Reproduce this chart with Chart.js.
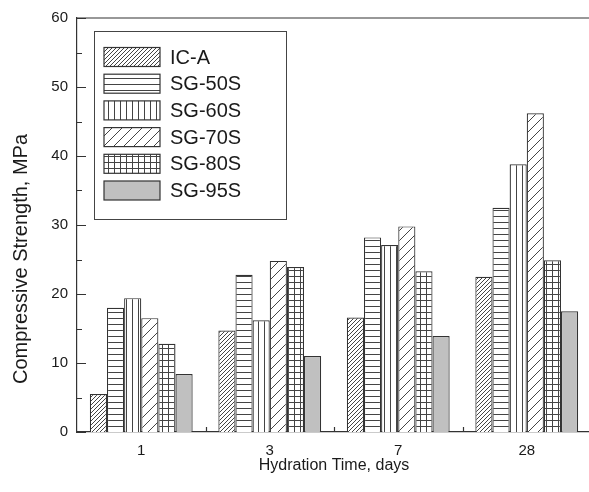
<!DOCTYPE html>
<html>
<head>
<meta charset="UTF-8">
<script src="https://cdn.jsdelivr.net/npm/chart.js"></script>
<style>
    html, body { margin: 0; padding: 0; background: #ffffff; overflow: hidden; }
    #wrap { width: 592px; height: 492px; position: relative; }
</style>
</head>
<body>
<div id="wrap"><canvas id="chart"></canvas></div>
<script>
const categories = ['1', '3', '7', '28'];
const seriesNames = ['IC-A', 'SG-50S', 'SG-60S', 'SG-70S', 'SG-80S', 'SG-95S'];
const icA = [5.5, 14.7, 16.6, 22.5];
const sg50 = [18.0, 22.8, 28.2, 32.5];
const sg60 = [19.4, 16.2, 27.1, 38.8];
const sg70 = [16.5, 24.8, 29.8, 46.2];
const sg80 = [12.8, 23.9, 23.3, 24.9];
const sg95 = [8.4, 11.0, 13.9, 17.5];
const yTicks = [0, 10, 20, 30, 40, 50, 60];

const fontFamily = "'Liberation Sans', Arial, sans-serif";
const inkColor = '#333333';
const hatchColor = '#444444';

// small tiles turned into canvas patterns for the hatched fills
function makePattern(kind) {
    const size = { dense: 4, horiz: 6, vert: 6, sparse: 10, grid: 6 }[kind];
    const c = document.createElement('canvas');
    c.width = size;
    c.height = size;
    const g = c.getContext('2d');
    g.fillStyle = '#ffffff';
    g.fillRect(0, 0, size, size);
    g.strokeStyle = hatchColor;
    g.lineWidth = 1;
    g.beginPath();
    if (kind === 'dense' || kind === 'sparse') {
        g.moveTo(-1, size + 1); g.lineTo(size + 1, -1);
        g.moveTo(-1, 1); g.lineTo(1, -1);
        g.moveTo(size - 1, size + 1); g.lineTo(size + 1, size - 1);
    }
    if (kind === 'horiz' || kind === 'grid') {
        g.moveTo(0, 0.5); g.lineTo(size, 0.5);
    }
    if (kind === 'vert' || kind === 'grid') {
        g.moveTo(0.5, 0); g.lineTo(0.5, size);
    }
    g.stroke();
    return g.createPattern(c, 'repeat');
}

const fills = [
    makePattern('dense'),
    makePattern('horiz'),
    makePattern('vert'),
    makePattern('sparse'),
    makePattern('grid'),
    '#c0c0c0'
];
const seriesValues = [icA, sg50, sg60, sg70, sg80, sg95];

// tick marks pointing inward, top frame line, y title, boxed legend
const framePlugin = {
    id: 'frame',
    afterDraw(chart) {
        const ctx = chart.ctx;
        const area = chart.chartArea;
        const x = chart.scales.x;
        const y = chart.scales.y;
        ctx.save();
        ctx.strokeStyle = inkColor;
        ctx.lineWidth = 1.2;
        ctx.beginPath();
        ctx.moveTo(area.left, area.top);
        ctx.lineTo(area.right + 2, area.top);
        yTicks.forEach((v) => {
            const py = Math.round(y.getPixelForValue(v)) + 0.5;
            ctx.moveTo(area.left, py);
            ctx.lineTo(area.left + 9, py);
            if (v < 60) {
                const pm = Math.round(y.getPixelForValue(v + 5)) + 0.5;
                ctx.moveTo(area.left, pm);
                ctx.lineTo(area.left + 5, pm);
            }
        });
        for (let i = 0; i < categories.length - 1; i++) {
            const px = Math.round((x.getPixelForValue(i) + x.getPixelForValue(i + 1)) / 2) + 0.5;
            ctx.moveTo(px, area.bottom);
            ctx.lineTo(px, area.bottom - 5);
        }
        ctx.stroke();

        // y axis title, sits a bit below the plot centre in the original
        ctx.save();
        ctx.translate(21, 259);
        ctx.rotate(-Math.PI / 2);
        ctx.font = '20px ' + fontFamily;
        ctx.fillStyle = '#1a1a1a';
        ctx.textAlign = 'center';
        ctx.textBaseline = 'middle';
        ctx.fillText('Compressive Strength, MPa', 0, 0);
        ctx.restore();

        // legend
        const bx = 94.5, by = 31.5, bw = 192, bh = 188;
        ctx.fillStyle = '#ffffff';
        ctx.fillRect(bx, by, bw, bh);
        ctx.strokeStyle = '#444444';
        ctx.lineWidth = 1;
        ctx.strokeRect(bx, by, bw, bh);
        ctx.font = '20px ' + fontFamily;
        ctx.textBaseline = 'middle';
        seriesNames.forEach((name, i) => {
            const sy = 47.5 + i * 26.7;
            ctx.fillStyle = fills[i];
            ctx.fillRect(104, sy, 56, 19);
            ctx.strokeStyle = inkColor;
            ctx.lineWidth = 1.2;
            ctx.strokeRect(104, sy, 56, 19);
            ctx.fillStyle = '#1a1a1a';
            ctx.fillText(name, 170, sy + 10.5);
        });
        ctx.restore();
    }
};

new Chart(document.getElementById('chart'), {
    type: 'bar',
    data: {
        labels: categories,
        datasets: seriesNames.map((name, i) => ({
            label: name,
            data: seriesValues[i],
            backgroundColor: fills[i],
            borderColor: inkColor,
            borderWidth: 1.2,
            categoryPercentage: 0.8,
            barPercentage: 1.0
        }))
    },
    options: {
        animation: false,
        responsive: true,
        maintainAspectRatio: false,
        layout: { padding: { top: 15, right: 1, left: 0, bottom: 0 } },
        plugins: {
            legend: { display: false },
            tooltip: { enabled: false }
        },
        scales: {
            x: {
                grid: { display: false, drawTicks: false },
                border: { display: true, color: inkColor, width: 1.2 },
                ticks: { color: '#1a1a1a', padding: 10, font: { family: fontFamily, size: 15 } },
                title: {
                    display: true,
                    text: 'Hydration Time, days',
                    color: '#1a1a1a',
                    font: { family: fontFamily, size: 16 },
                    padding: { top: 0, bottom: 17 }
                },
                afterFit(scale) { scale.height = 60; }
            },
            y: {
                min: 0,
                max: 60,
                grid: { display: false, drawTicks: false },
                border: { display: true, color: inkColor, width: 1.2 },
                ticks: {
                    stepSize: 10,
                    color: '#1a1a1a',
                    padding: 9,
                    font: { family: fontFamily, size: 15 }
                },
                title: { display: false },
                afterFit(scale) { scale.width = 77; }
            }
        }
    },
    plugins: [framePlugin]
});
</script>
</body>
</html>
